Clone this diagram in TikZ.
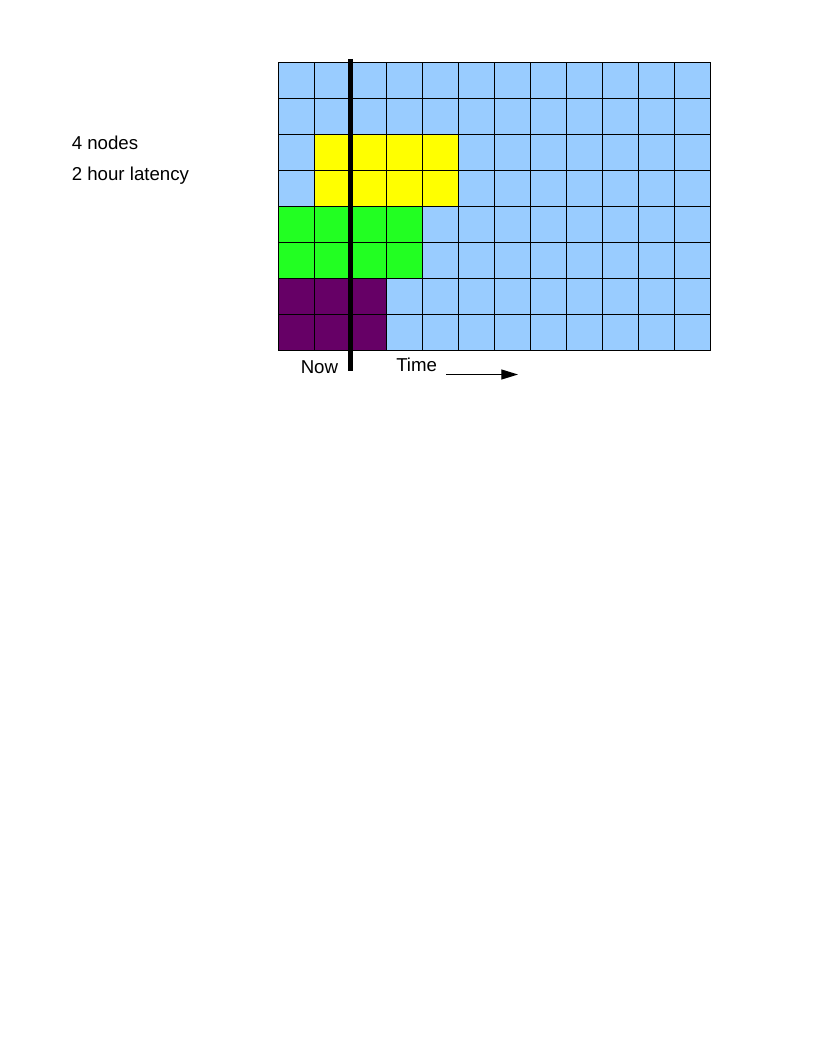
\documentclass[tikz,border=0pt]{standalone}
\usepackage{fontspec}
\setmainfont{Liberation Sans}
\usetikzlibrary{arrows.meta}
\definecolor{cellblue}{HTML}{99CCFF}
\definecolor{cellyellow}{HTML}{FFFF00}
\definecolor{cellgreen}{HTML}{22FF22}
\definecolor{cellpurple}{HTML}{660066}
\tikzset{
  cell/.style={draw=black, line width=0.65pt},
  lbl/.style={anchor=base west, inner sep=0pt, font=\fontsize{14pt}{16pt}\selectfont},
}
\begin{document}
\begin{tikzpicture}[x=0.75pt, y=-0.75pt]
\useasboundingbox[fill=white] (0,0) rectangle (816,1056);
% background cells
\foreach \c in {0,...,11}{
  \foreach \r in {0,...,7}{
    \pgfmathsetmacro{\xx}{278+36*\c}
    \pgfmathsetmacro{\yy}{62+36*\r}
    \pgfmathtruncatemacro{\col}{ (\r==2 || \r==3) && (\c>=1 && \c<=4) ? 1 : ((\r==4 || \r==5) && \c<=3 ? 2 : ((\r==6 || \r==7) && \c<=2 ? 3 : 0)) }
    \ifcase\col
      \filldraw[cell, fill=cellblue] (\xx,\yy) rectangle ++(36,36);
    \or
      \filldraw[cell, fill=cellyellow] (\xx,\yy) rectangle ++(36,36);
    \or
      \filldraw[cell, fill=cellgreen] (\xx,\yy) rectangle ++(36,36);
    \or
      \filldraw[cell, fill=cellpurple] (\xx,\yy) rectangle ++(36,36);
    \fi
  }
}
% now line
\coordinate (nowtop) at (350.3,59);
\coordinate (nowbot) at (350.3,370.7);
\draw[line width=3.4pt] (nowtop) -- (nowbot);
% labels
\node[lbl] (nodes) at (71.5,149) {4 nodes};
\node[lbl] (lat) at (71.5,180) {2 hour latency};
\node[lbl] (now) at (300.5,373) {Now};
\node[lbl] (time) at (396,371.5) {Time};
% arrow
\coordinate (as) at (446,374.5);
\coordinate (ae) at (518,374.5);
\draw[line width=0.75pt, -{Triangle[length=12.5pt, width=7.5pt]}] (as) -- (ae);
\end{tikzpicture}
\end{document}
